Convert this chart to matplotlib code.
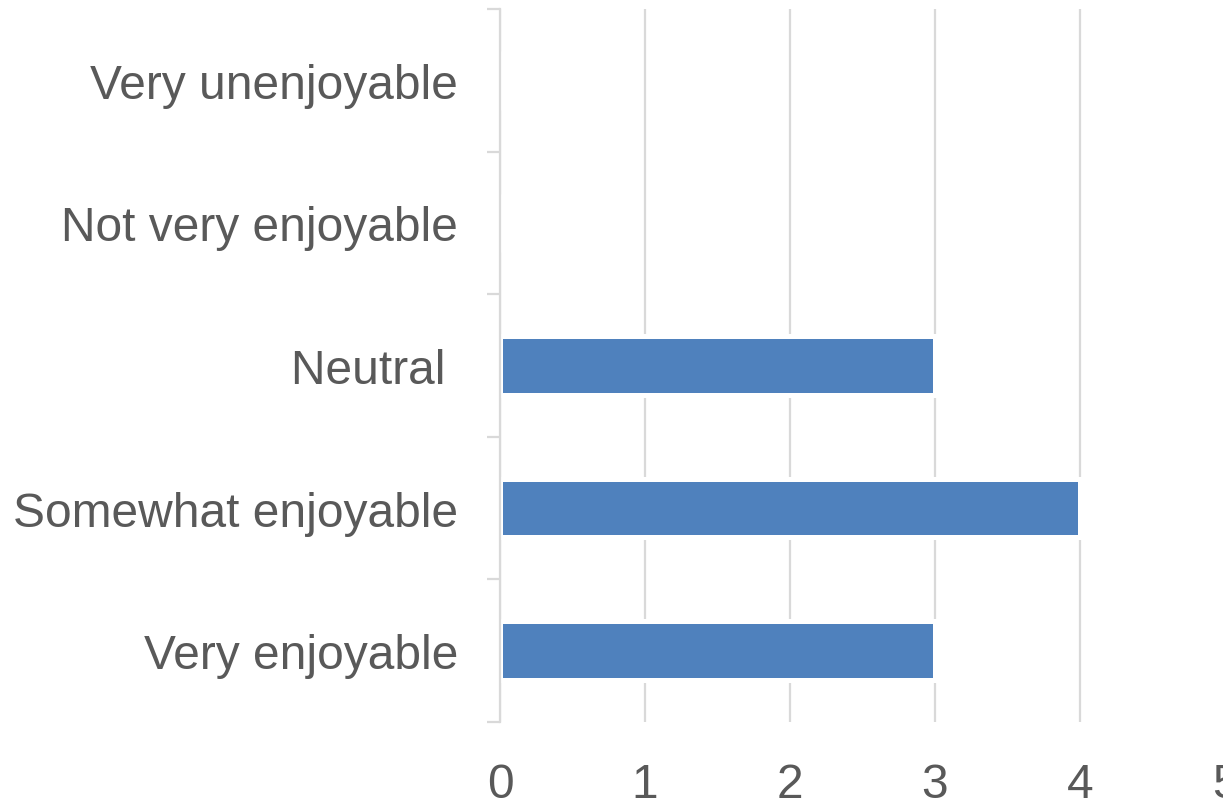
import numpy as np
import matplotlib
matplotlib.use("Agg")
from matplotlib import pyplot as plt

# datos (de abajo hacia arriba)
categorias = ["Very enjoyable", "Somewhat enjoyable", "Neutral ", "Not very enjoyable", "Very unenjoyable"]
valores = [3, 4, 3, 0, 0]
xticks = [0, 1, 2, 3, 4, 5]

azul = "#4F81BD"
gris = "#D9D9D9"
texto = "#595959"

plt.rcParams['font.family'] = ['Liberation Sans', 'DejaVu Sans']

W, H = 1223, 803
fig = plt.figure(figsize=(W / 100, H / 100), dpi=100)
ax = fig.add_axes([500 / W, 1 - 723 / H, 725 / W, 713 / H])

y = np.arange(len(categorias))
ax.barh(y, valores, height=0.41, color=azul, edgecolor="white", linewidth=3.6, zorder=2)

ax.set_xlim(0, 5)
ax.set_ylim(-0.5, len(categorias) - 0.5)
ax.set_xticks(xticks)
ax.set_xticklabels([str(v) for v in xticks])
ax.set_yticks(y)
ax.set_yticklabels(categorias)
ax.set_yticks(np.arange(-0.5, len(categorias)), minor=True)

ax.grid(axis="x", color=gris, linewidth=1.6, zorder=0)
ax.set_axisbelow(True)
for s in ["top", "right", "bottom"]:
    ax.spines[s].set_visible(False)
ax.spines["left"].set_color(gris)
ax.spines["left"].set_linewidth(1.6)
ax.spines["left"].set_zorder(3)

ax.tick_params(axis="x", length=0, pad=29, labelsize=34.5, labelcolor=texto)
ax.tick_params(axis="y", which="major", length=0, pad=30, labelsize=34.5, labelcolor=texto)
ax.tick_params(axis="y", which="minor", length=9.5, width=1.6, color=gris)

fig.savefig("out.png", dpi=100)
